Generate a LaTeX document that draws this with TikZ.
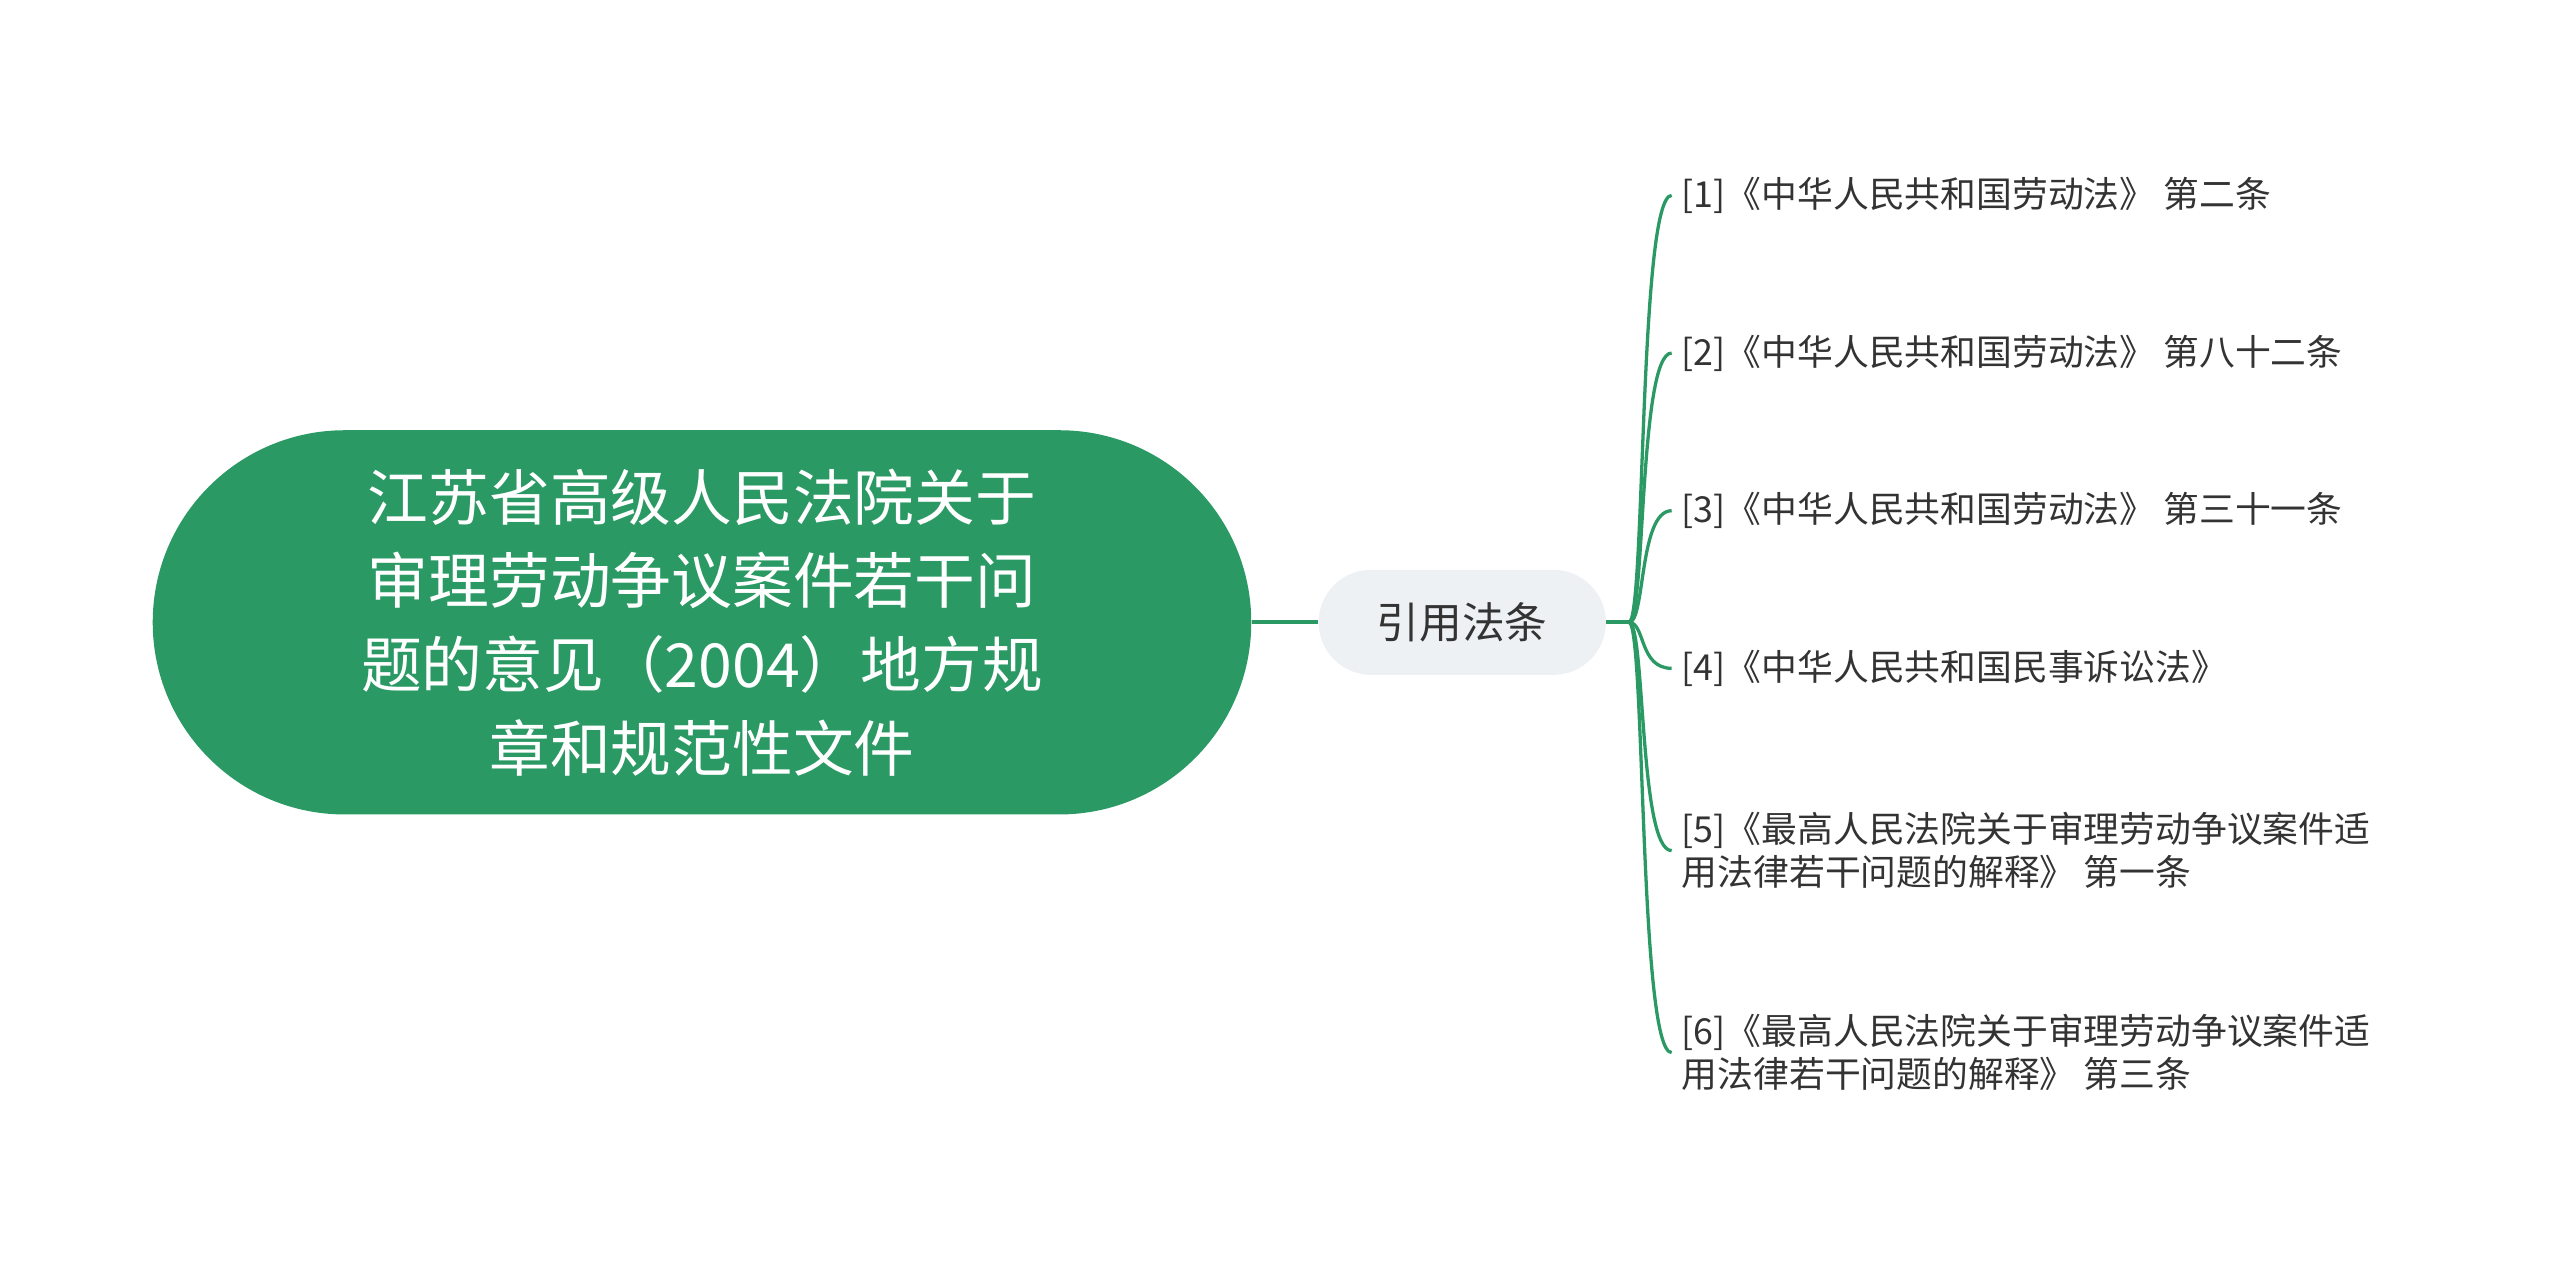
\documentclass[tikz,border=0pt]{standalone}
\usepackage{fontspec}
\setmainfont{Noto Sans CJK SC}
\definecolor{gr}{HTML}{2A9964}
\definecolor{pill}{HTML}{EEF1F4}
\definecolor{tx}{HTML}{333333}
\begin{document}
\begin{tikzpicture}[x=1pt,y=-1pt,
  conn/.style={draw=gr,line width=2.4pt},
  leaf/.style={anchor=west,align=left,inner sep=4pt,text=tx,font=\fontsize{21.8}{26}\selectfont}]
\useasboundingbox (0,0) rectangle (1559,768);
\node[fill=gr,rounded corners=117pt,minimum width=669pt,minimum height=234pt,text=white,align=center,font=\fontsize{37}{51}\selectfont] (root) at (427.5,379)
 {江苏省高级人民法院关于\\审理劳动争议案件若干问\\题的意见（2004）地方规\\章和规范性文件};
\node[fill=pill,rounded corners=32pt,minimum width=175pt,minimum height=64pt,text=tx,font=\fontsize{26}{30}\selectfont] (mid) at (890.5,379) {引用法条};
\draw[conn] (root.east) -- (mid.west);
\coordinate (j) at (992,379);
\draw[conn] (mid.east) -- (j);
\node[leaf] (l1) at (1020,119) {[1]《中华人民共和国劳动法》 第二条};
\node[leaf] (l2) at (1020,215) {[2]《中华人民共和国劳动法》 第八十二条};
\node[leaf] (l3) at (1020,311) {[3]《中华人民共和国劳动法》 第三十一条};
\node[leaf] (l4) at (1020,407) {[4]《中华人民共和国民事诉讼法》};
\node[leaf] (l5) at (1020,518) {[5]《最高人民法院关于审理劳动争议案件适\\用法律若干问题的解释》 第一条};
\node[leaf] (l6) at (1020,641) {[6]《最高人民法院关于审理劳动争议案件适\\用法律若干问题的解释》 第三条};
\foreach \n in {l1,l2,l3,l4,l5,l6}{
  \draw[conn,line width=2pt] (j) .. controls (1002,379) and (998,0|-\n.west) .. ([xshift=-2pt]\n.west);
}
\end{tikzpicture}
\end{document}
